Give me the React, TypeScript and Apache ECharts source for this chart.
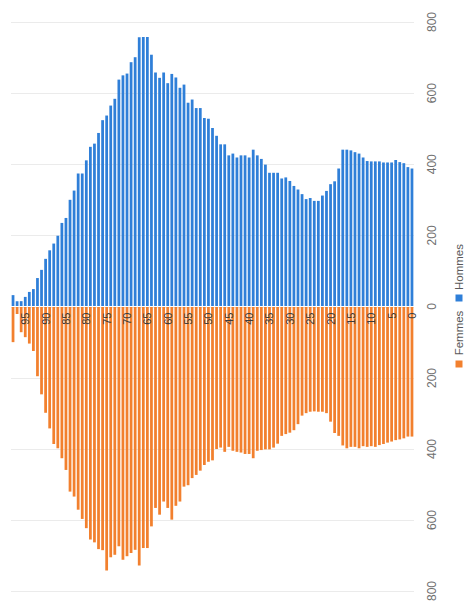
import React, { useEffect, useRef } from "react";
import * as echarts from "echarts";

// Ages 0..98 (category axis, drawn inverted so 0 is on the right)
const AGES: string[] = Array.from({ length: 99 }, (_, i) => String(i));

// Hommes, by age 0..98
const HOMMES: number[] = [
  388, 392, 403, 406, 412, 405, 405, 405, 408, 408,
  408, 409, 419, 430, 434, 439, 441, 441, 388, 352,
  344, 325, 312, 297, 297, 305, 302, 316, 329, 339,
  353, 363, 360, 376, 376, 376, 399, 415, 425, 441,
  419, 425, 425, 419, 430, 425, 456, 456, 480, 502,
  528, 530, 558, 558, 582, 573, 624, 615, 644, 654,
  628, 658, 643, 658, 708, 758, 758, 757, 701, 687,
  655, 650, 638, 584, 565, 537, 524, 488, 458, 449,
  411, 374, 374, 326, 300, 249, 235, 199, 177, 158,
  134, 103, 80, 49, 41, 27, 15, 15, 32,
];

// Femmes, by age 0..98
const FEMMES: number[] = [
  365, 365, 370, 373, 375, 379, 382, 386, 389, 394,
  392, 394, 392, 398, 394, 394, 398, 390, 363, 355,
  323, 299, 295, 295, 294, 295, 299, 306, 330, 347,
  354, 358, 363, 385, 396, 401, 401, 403, 405, 426,
  414, 414, 410, 408, 405, 394, 408, 396, 400, 432,
  436, 445, 461, 473, 482, 502, 506, 548, 560, 599,
  566, 548, 585, 566, 618, 679, 679, 728, 684, 693,
  702, 712, 674, 698, 705, 742, 685, 682, 663, 655,
  623, 597, 571, 534, 520, 459, 426, 398, 386, 342,
  298, 246, 195, 124, 103, 85, 71, 20, 99,
];

const SERIES_NAMES = ["Femmes", "Hommes"];
const AGE_LABEL_STEP = 5;
const VALUE_MAX = 800;
const VALUE_STEP = 200;

const ORANGE = "#f2802e";
const BLUE = "#2f7fd8";
const FONT = "'Liberation Sans', Arial, sans-serif";

function buildLegend() {
  // rotated legend (the chart reads turned 90° counter-clockwise)
  const items = [
    { name: SERIES_NAMES[0], color: ORANGE, boxY: 364, textY: 333 },
    { name: SERIES_NAMES[1], color: BLUE, boxY: 298, textY: 267 },
  ];
  const els: any[] = [];
  items.forEach((it) => {
    els.push({
      type: "rect",
      x: 459,
      y: it.boxY,
      shape: { x: -3.5, y: -3.5, width: 7, height: 7 },
      style: { fill: it.color },
    });
    els.push({
      type: "text",
      x: 459,
      y: it.textY,
      rotation: Math.PI / 2,
      style: {
        text: it.name,
        fontSize: 11.5,
        fontFamily: FONT,
        fill: "#595959",
        align: "center",
        verticalAlign: "middle",
      },
    });
  });
  return els;
}

export default function App() {
  const ref = useRef<HTMLDivElement>(null);

  useEffect(() => {
    if (!ref.current) return;
    const chart = echarts.init(ref.current, null, { renderer: "svg" });
    const valueAxisBase = {
      type: "value",
      position: "right",
      min: 0,
      max: VALUE_MAX,
      interval: VALUE_STEP,
      axisLine: { show: false },
      axisTick: { show: false },
      splitLine: { lineStyle: { color: "#ebebeb", width: 1 } },
    };
    const valueLabel = {
      rotate: 90,
      margin: 12,
      fontSize: 12,
      color: "#707070",
      fontFamily: FONT,
    };
    chart.setOption({
      animation: false,
      backgroundColor: "#ffffff",
      textStyle: { fontFamily: FONT },
      grid: [
        { left: 11, right: 53, top: 22, bottom: 298.5, containLabel: false },
        { left: 11, right: 53, top: 307, bottom: 14, containLabel: false },
      ],
      xAxis: [
        {
          type: "category",
          gridIndex: 0,
          data: AGES,
          inverse: true,
          position: "bottom",
          z: 10,
          axisLine: { show: true, lineStyle: { color: "#ffffff", width: 1 } },
          axisTick: { show: false },
          splitLine: { show: false },
          axisLabel: {
            interval: AGE_LABEL_STEP - 1,
            rotate: 90,
            margin: 6,
            fontSize: 11,
            color: "#3c3c3c",
            fontFamily: FONT,
          },
        },
        {
          type: "category",
          gridIndex: 1,
          data: AGES,
          inverse: true,
          position: "top",
          axisLine: { show: false },
          axisTick: { show: false },
          axisLabel: { show: false },
          splitLine: { show: false },
        },
      ],
      yAxis: [
        { ...valueAxisBase, gridIndex: 0, axisLabel: { ...valueLabel } },
        {
          ...valueAxisBase,
          gridIndex: 1,
          inverse: true,
          axisLabel: { ...valueLabel, showMinLabel: false },
        },
      ],
      series: [
        {
          name: SERIES_NAMES[0],
          type: "bar",
          xAxisIndex: 1,
          yAxisIndex: 1,
          data: FEMMES,
          barWidth: "68%",
          itemStyle: { color: ORANGE },
        },
        {
          name: SERIES_NAMES[1],
          type: "bar",
          xAxisIndex: 0,
          yAxisIndex: 0,
          data: HOMMES,
          barWidth: "68%",
          itemStyle: { color: BLUE },
        },
      ],
      graphic: buildLegend(),
    });
    return () => chart.dispose();
  }, []);

  return (
    <div
      ref={ref}
      style={{
        position: "absolute",
        left: 0,
        top: 0,
        width: 467,
        height: 605,
        background: "#ffffff",
      }}
    />
  );
}
